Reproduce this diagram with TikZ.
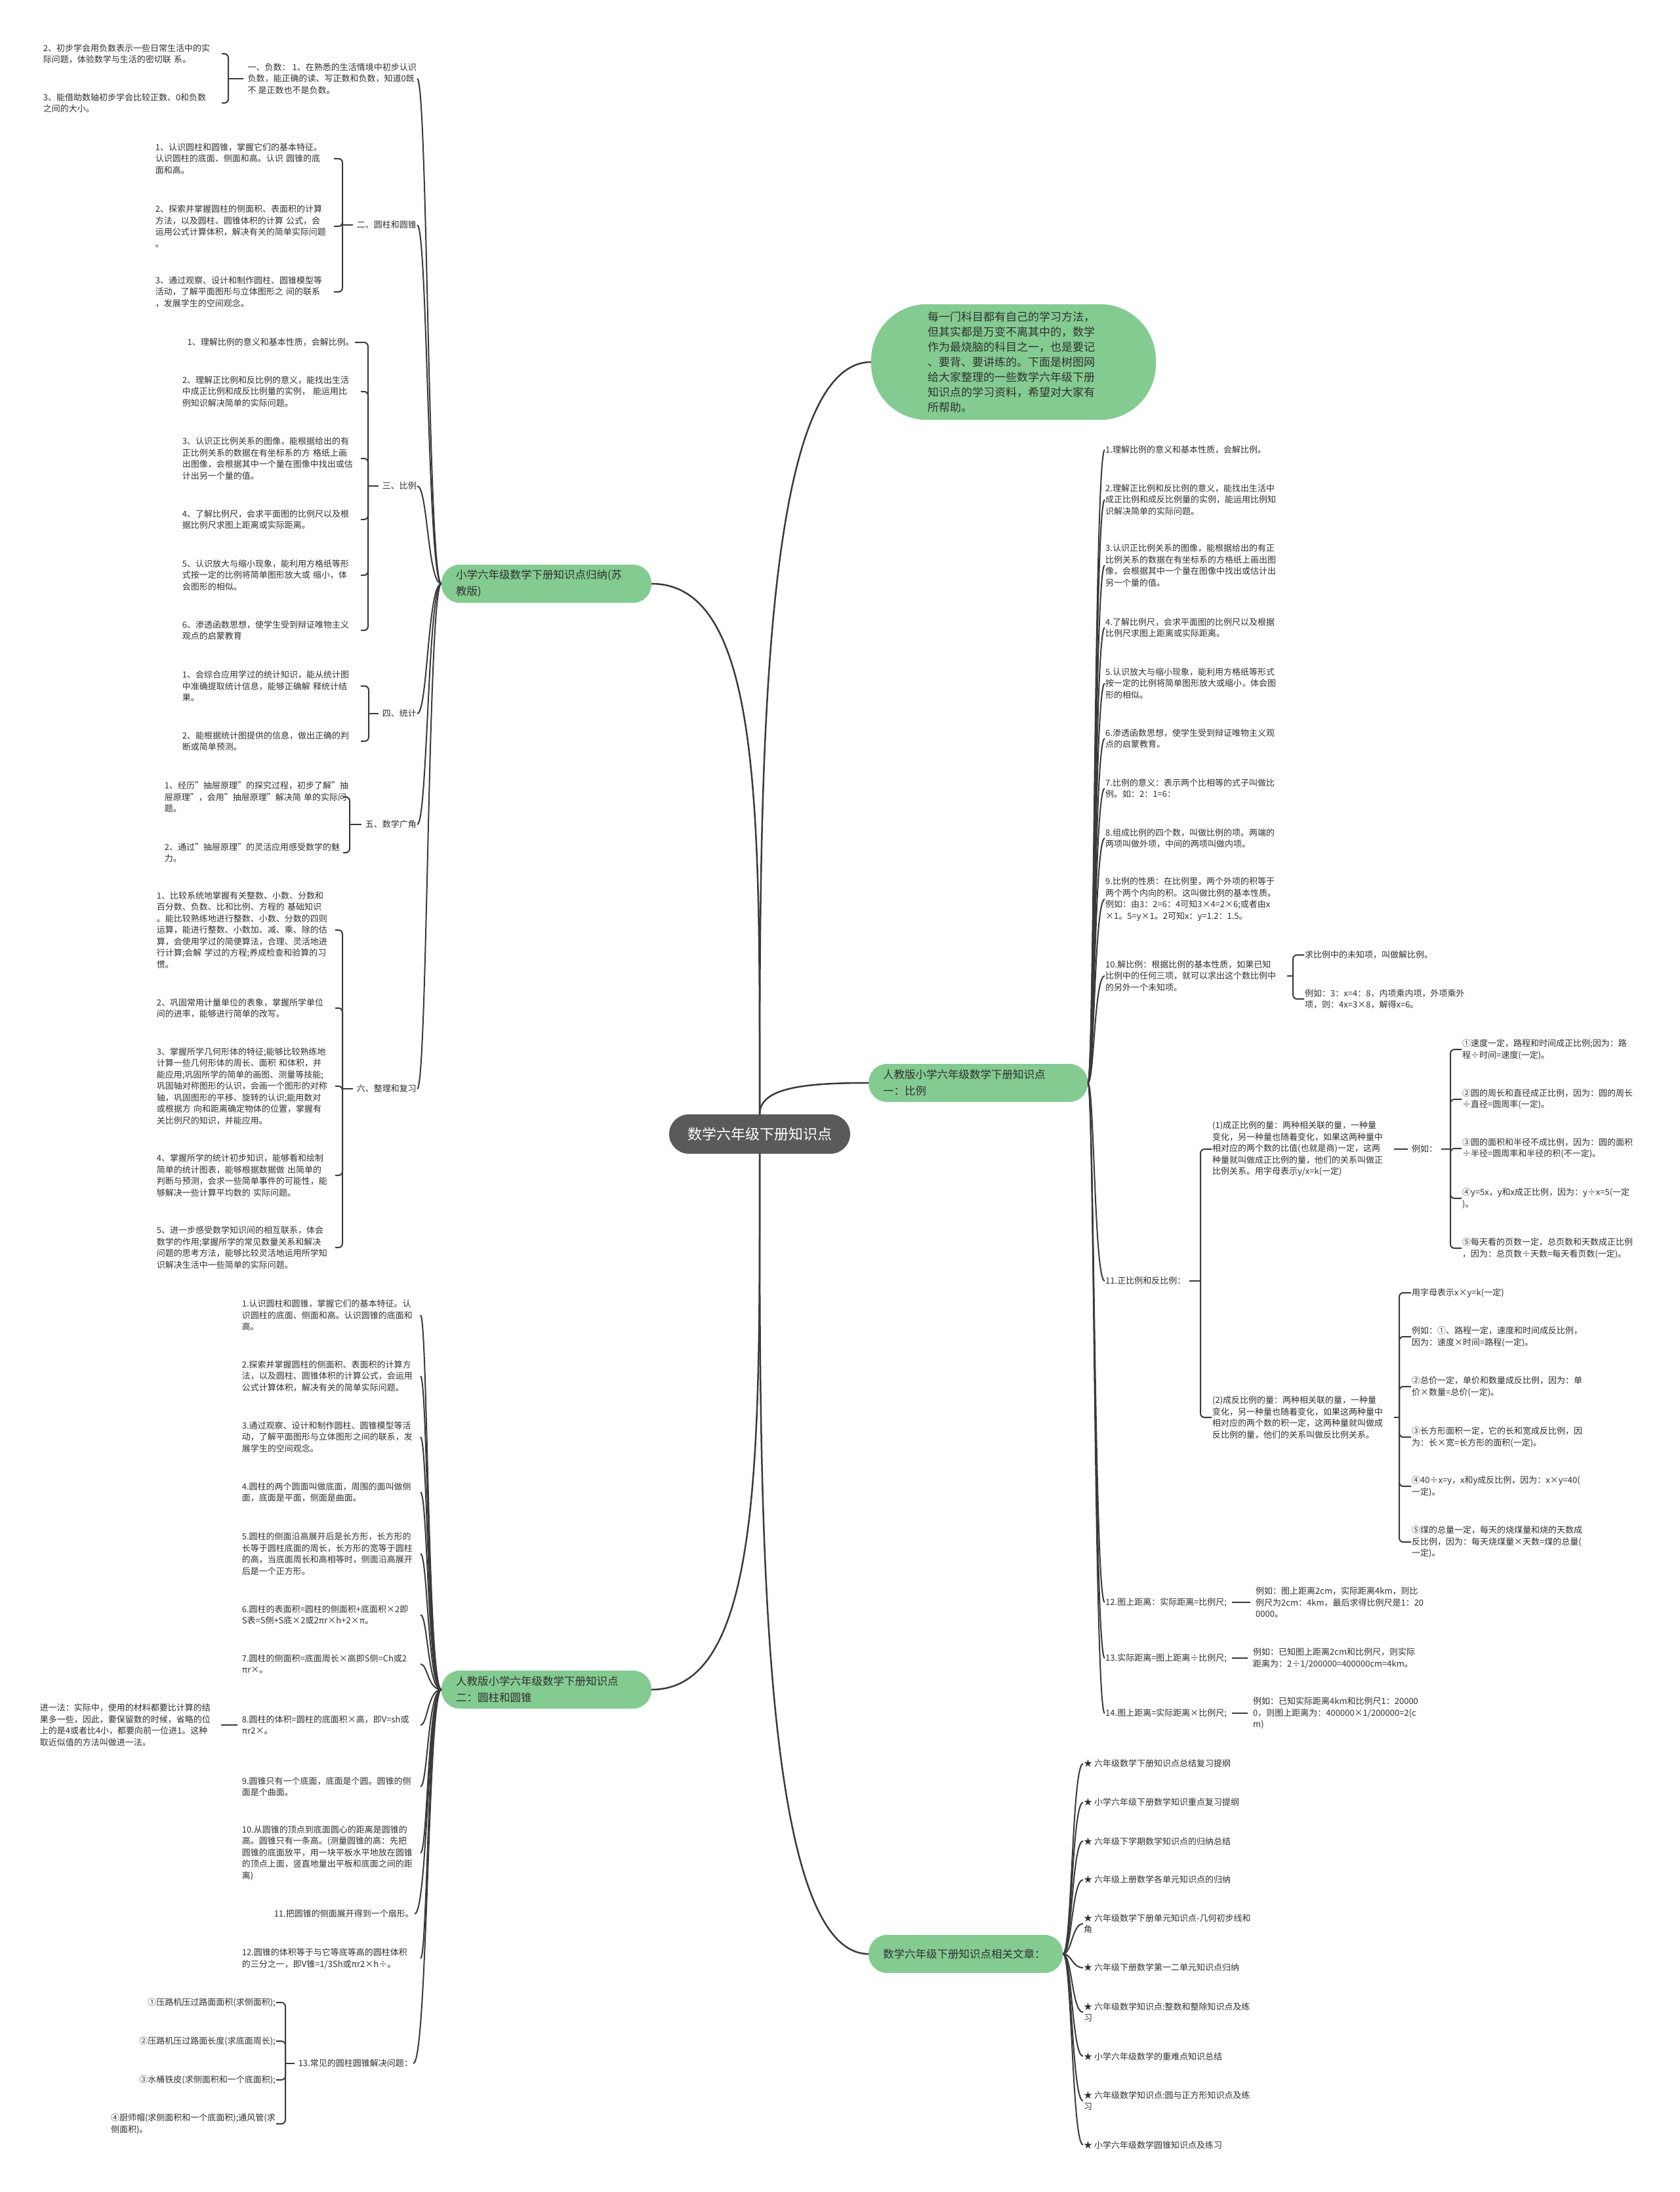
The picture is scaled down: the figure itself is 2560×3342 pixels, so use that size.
\documentclass[tikz,border=0pt]{standalone}
\usepackage{fontspec}
\setmainfont{Noto Sans CJK SC}
\definecolor{mapgreen}{HTML}{84CB91}
\definecolor{mapdark}{HTML}{5A5A5A}
\definecolor{mapline}{HTML}{3A3A3A}
\definecolor{maptext}{HTML}{303030}

\begin{document}
\begin{tikzpicture}[x=1pt, y=-1pt,
    leaf/.style={font=\fontsize{13}{17.5}\selectfont, text=maptext, align=left, inner sep=1pt},
    wide/.style={leaf, text width=271pt},
    topic/.style={fill=mapgreen, text=maptext, align=left, rounded corners=28pt,
      font=\fontsize{16.5}{25}\selectfont, inner xsep=22pt, inner ysep=8pt, minimum height=58pt},
    link/.style={draw=mapline, line width=2pt},
    trunk/.style={draw=mapline, line width=2.5pt},
    brace/.style={draw=mapline, line width=2pt, rounded corners=6pt},
  ]
  \fill[white] (0,0) rectangle (2560,3342);
  \useasboundingbox (0,0) rectangle (2560,3342);

  % centre and main topics
  \node[fill=mapdark, text=white, rounded corners=30pt, minimum height=60pt, inner xsep=28pt,
    font=\fontsize{22}{26}\selectfont] (root) at (1158,1729) {数学六年级下册知识点};
  \node[topic, rounded corners=85pt, text width=262pt, inner xsep=86pt, inner ysep=11pt,
    font=\fontsize{17}{23.1}\selectfont] (intro) at (1545,552)
    {每一门科目都有自己的学习方法，\\但其实都是万变不离其中的，数学\\作为最烧脑的科目之一，也是要记\\、要背、要讲练的。下面是树图网\\给大家整理的一些数学六年级下册\\知识点的学习资料，希望对大家有\\所帮助。};
  \node[topic, text width=276pt] (sujiao) at (833,890) {小学六年级数学下册知识点归纳(苏\\教版)};
  \node[topic, text width=276pt] (yuanzhu) at (833,2576) {人教版小学六年级数学下册知识点\\二：圆柱和圆锥};
  \node[topic, text width=290pt, anchor=west] (bili) at (1324,1651) {人教版小学六年级数学下册知识点\\一：比例};
  \node[topic, text width=252pt, anchor=west] (wenzhang) at (1324,2979) {数学六年级下册知识点相关文章：};

  \draw[trunk] (root.north) .. controls +(0,-450) and +(170,0) .. (sujiao.east);
  \draw[trunk] (root.south) .. controls +(0,450) and +(170,0) .. (yuanzhu.east);
  \draw[trunk] (root.north) .. controls +(0,-500) and +(-170,0) .. (intro.west);
  \draw[trunk] (root.north) .. controls +(0,-40) and +(-100,0) .. (bili.west);
  \draw[trunk] (root.south) .. controls +(0,500) and +(-170,0) .. (wenzhang.west);

  % su jiao ban
  \node[leaf, anchor=east] (neg) at (636,120) {一、负数：~1、在熟悉的生活情境中初步认识\\负数，能正确的读、写正数和负数，知道0既\\不~是正数也不是负数。};
  \node[leaf, anchor=east] (cyl) at (636,343) {二、圆柱和圆锥};
  \node[leaf, anchor=east] (prop) at (636,741) {三、比例};
  \node[leaf, anchor=east] (stat) at (636,1088) {四、统计};
  \node[leaf, anchor=east] (guang) at (636,1257) {五、数学广角};
  \node[leaf, anchor=east] (review) at (636,1660) {六、整理和复习};
  \coordinate (s1) at (652,890);
  \foreach \n in {neg,cyl,prop,stat,guang,review}
    \draw[link] (sujiao.west) .. controls (s1) and (s1 |- \n.east) .. (\n.east);

  \node[wide, anchor=east] (neg1) at (338,82) {2、初步学会用负数表示一些日常生活中的实\\际问题，体验数学与生活的密切联~系。};
  \node[wide, anchor=east] (neg2) at (338,157) {3、能借助数轴初步学会比较正数、0和负数\\之间的大小。};
  \coordinate (b1) at (348,120);

  \node[wide, anchor=east] (cyl1) at (509,242) {1、认识圆柱和圆锥，掌握它们的基本特征。\\认识圆柱的底面、侧面和高。认识~圆锥的底\\面和高。};
  \node[wide, anchor=east] (cyl2) at (509,345) {2、探索并掌握圆柱的侧面积、表面积的计算\\方法，以及圆柱、圆锥体积的计算~公式，会\\运用公式计算体积，解决有关的简单实际问题\\。};
  \node[wide, anchor=east] (cyl3) at (509,445) {3、通过观察、设计和制作圆柱、圆锥模型等\\活动，了解平面图形与立体图形之~间的联系\\，发展学生的空间观念。};
  \coordinate (b2) at (522,343);

  \node[leaf, anchor=east] (prop1) at (541,522) {1、理解比例的意义和基本性质，会解比例。};
  \node[wide, anchor=east] (prop2) at (550,597) {2、理解正比例和反比例的意义，能找出生活\\中成正比例和成反比例量的实例，~能运用比\\例知识解决简单的实际问题。};
  \node[wide, anchor=east] (prop3) at (550,699) {3、认识正比例关系的图像，能根据给出的有\\正比例关系的数据在有坐标系的方~格纸上画\\出图像，会根据其中一个量在图像中找出或估\\计出另一个量的值。};
  \node[wide, anchor=east] (prop4) at (550,792) {4、了解比例尺，会求平面图的比例尺以及根\\据比例尺求图上距离或实际距离。};
  \node[wide, anchor=east] (prop5) at (550,877) {5、认识放大与缩小现象，能利用方格纸等形\\式按一定的比例将简单图形放大或~缩小，体\\会图形的相似。};
  \node[wide, anchor=east] (prop6) at (550,961) {6、渗透函数思想，使学生受到辩证唯物主义\\观点的启蒙教育};
  \coordinate (b3) at (561,741);

  \node[wide, anchor=east] (stat1) at (550,1046) {1、会综合应用学过的统计知识，能从统计图\\中准确提取统计信息，能够正确解~释统计结\\果。};
  \node[wide, anchor=east] (stat2) at (550,1130) {2、能根据统计图提供的信息，做出正确的判\\断或简单预测。};
  \coordinate (b4) at (562,1088);

  \node[wide, anchor=east] (guang1) at (523,1215) {1、经历"抽屉原理"的探究过程，初步了解"抽\\屉原理"，会用"抽屉原理"解决简~单的实际问\\题。};
  \node[wide, anchor=east] (guang2) at (523,1300) {2、通过"抽屉原理"的灵活应用感受数学的魅\\力。};
  \coordinate (b5) at (533,1257);

  \node[wide, anchor=east] (rev1) at (511,1418) {1、比较系统地掌握有关整数、小数、分数和\\百分数、负数、比和比例、方程的~基础知识\\。能比较熟练地进行整数、小数、分数的四则\\运算，能进行整数、小数加、减、乘、除的估\\算，会使用学过的简便算法，合理、灵活地进\\行计算;会解~学过的方程;养成检查和验算的习\\惯。};
  \node[wide, anchor=east] (rev2) at (511,1537) {2、巩固常用计量单位的表象，掌握所学单位\\间的进率，能够进行简单的改写。};
  \node[wide, anchor=east] (rev3) at (511,1656) {3、掌握所学几何形体的特征;能够比较熟练地\\计算一些几何形体的周长、面积~和体积，并\\能应用;巩固所学的简单的画图、测量等技能;\\巩固轴对称图形的认识，会画一个图形的对称\\轴，巩固图形的平移、旋转的认识;能用数对\\或根据方~向和距离确定物体的位置，掌握有\\关比例尺的知识，并能应用。};
  \node[wide, anchor=east] (rev4) at (511,1792) {4、掌握所学的统计初步知识，能够看和绘制\\简单的统计图表，能够根据数据做~出简单的\\判断与预测，会求一些简单事件的可能性，能\\够解决一些计算平均数的~实际问题。};
  \node[wide, anchor=east] (rev5) at (511,1902) {5、进一步感受数学知识间的相互联系，体会\\数学的作用;掌握所学的常见数量关系和解决\\问题的思考方法，能够比较灵活地运用所学知\\识解决生活中一些简单的实际问题。};
  \coordinate (b6) at (522,1660);

  \draw[brace, shorten <=5pt] (neg.west) -- (b1);
  \foreach \k in {neg1,neg2} \draw[brace] (b1) |- (\k.east);
  \draw[brace, shorten <=5pt] (cyl.west) -- (b2);
  \foreach \k in {cyl1,cyl2,cyl3} \draw[brace] (b2) |- (\k.east);
  \draw[brace, shorten <=5pt] (prop.west) -- (b3);
  \foreach \i in {1,...,6} \draw[brace] (b3) |- (prop\i.east);
  \draw[brace, shorten <=5pt] (stat.west) -- (b4);
  \foreach \k in {stat1,stat2} \draw[brace] (b4) |- (\k.east);
  \draw[brace, shorten <=5pt] (guang.west) -- (b5);
  \foreach \k in {guang1,guang2} \draw[brace] (b5) |- (\k.east);
  \draw[brace, shorten <=5pt] (review.west) -- (b6);
  \foreach \i in {1,...,5} \draw[brace] (b6) |- (rev\i.east);

  % ren jiao ban: yuan zhu he yuan zhui
  \node[wide, anchor=east] (yz1) at (641,2005) {1.认识圆柱和圆锥，掌握它们的基本特征。认\\识圆柱的底面、侧面和高。认识圆锥的底面和\\高。};
  \node[wide, anchor=east] (yz2) at (641,2098) {2.探索并掌握圆柱的侧面积、表面积的计算方\\法，以及圆柱、圆锥体积的计算公式，会运用\\公式计算体积，解决有关的简单实际问题。};
  \node[wide, anchor=east] (yz3) at (641,2191) {3.通过观察、设计和制作圆柱、圆锥模型等活\\动，了解平面图形与立体图形之间的联系，发\\展学生的空间观念。};
  \node[wide, anchor=east] (yz4) at (641,2275) {4.圆柱的两个圆面叫做底面，周围的面叫做侧\\面，底面是平面，侧面是曲面。};
  \node[wide, anchor=east] (yz5) at (641,2369) {5.圆柱的侧面沿高展开后是长方形，长方形的\\长等于圆柱底面的周长，长方形的宽等于圆柱\\的高，当底面周长和高相等时，侧面沿高展开\\后是一个正方形。};
  \node[wide, anchor=east] (yz6) at (641,2462) {6.圆柱的表面积=圆柱的侧面积+底面积×2即\\S表=S侧+S底×2或2πr×h+2×π。};
  \node[wide, anchor=east] (yz7) at (641,2537) {7.圆柱的侧面积=底面周长×高即S侧=Ch或2\\πr×。};
  \node[wide, anchor=east] (yz8) at (641,2630) {8.圆柱的体积=圆柱的底面积×高，即V=sh或\\πr2×。};
  \node[wide, anchor=east] (yz9) at (641,2724) {9.圆锥只有一个底面，底面是个圆。圆锥的侧\\面是个曲面。};
  \node[wide, anchor=east] (yz10) at (641,2825) {10.从圆锥的顶点到底面圆心的距离是圆锥的\\高。圆锥只有一条高。(测量圆锥的高：先把\\圆锥的底面放平，用一块平板水平地放在圆锥\\的顶点上面，竖直地量出平板和底面之间的距\\离)};
  \node[leaf, anchor=east] (yz11) at (632,2918) {11.把圆锥的侧面展开得到一个扇形。};
  \node[wide, anchor=east] (yz12) at (641,2986) {12.圆锥的体积等于与它等底等高的圆柱体积\\的三分之一，即V锥=1/3Sh或πr2×h÷。};
  \node[leaf, anchor=east] (yz13) at (630,3146) {13.常见的圆柱圆锥解决问题：};
  \coordinate (s2) at (652,2576);
  \foreach \i in {1,...,13}
    \draw[link] (yuanzhu.west) .. controls (s2) and (s2 |- yz\i.east) .. (yz\i.east);

  \node[wide, anchor=east] (jinyi) at (333,2630) {进一法：实际中，使用的材料都要比计算的结\\果多一些，因此，要保留数的时候，省略的位\\上的是4或者比4小，都要向前一位进1。这种\\取近似值的方法叫做进一法。};
  \draw[link, shorten <=6pt, shorten >=4pt] (yz8.west) -- (jinyi.east);

  \node[leaf, anchor=east] (use1) at (421,3053) {①压路机压过路面面积(求侧面积);};
  \node[leaf, anchor=east] (use2) at (421,3112) {②压路机压过路面长度(求底面周长);};
  \node[leaf, anchor=east] (use3) at (421,3171) {③水桶铁皮(求侧面积和一个底面积);};
  \node[leaf, anchor=east] (use4) at (421,3238) {④厨师帽(求侧面积和一个底面积);通风管(求\\侧面积)。};
  \coordinate (b13) at (435,3146);
  \draw[brace, shorten <=5pt] (yz13.west) -- (b13);
  \foreach \i in {1,...,4} \draw[brace] (b13) |- (use\i.east);

  % ren jiao ban: bi li
  \node[leaf, anchor=west] (bl1) at (1684,686) {1.理解比例的意义和基本性质，会解比例。};
  \node[wide, anchor=west] (bl2) at (1684,762) {2.理解正比例和反比例的意义，能找出生活中\\成正比例和成反比例量的实例，能运用比例知\\识解决简单的实际问题。};
  \node[wide, anchor=west] (bl3) at (1684,862) {3.认识正比例关系的图像，能根据给出的有正\\比例关系的数据在有坐标系的方格纸上画出图\\像，会根据其中一个量在图像中找出或估计出\\另一个量的值。};
  \node[wide, anchor=west] (bl4) at (1684,957) {4.了解比例尺，会求平面图的比例尺以及根据\\比例尺求图上距离或实际距离。};
  \node[wide, anchor=west] (bl5) at (1684,1042) {5.认识放大与缩小现象，能利用方格纸等形式\\按一定的比例将简单图形放大或缩小，体会图\\形的相似。};
  \node[wide, anchor=west] (bl6) at (1684,1126) {6.渗透函数思想，使学生受到辩证唯物主义观\\点的启蒙教育。};
  \node[wide, anchor=west] (bl7) at (1684,1202) {7.比例的意义：表示两个比相等的式子叫做比\\例。如：2：1=6：};
  \node[wide, anchor=west] (bl8) at (1684,1278) {8.组成比例的四个数，叫做比例的项。两端的\\两项叫做外项，中间的两项叫做内项。};
  \node[wide, anchor=west] (bl9) at (1684,1371) {9.比例的性质：在比例里，两个外项的积等于\\两个两个内向的积。这叫做比例的基本性质。\\例如：由3：2=6：4可知3×4=2×6;或者由x\\×1。5=y×1。2可知x：y=1.2：1.5。};
  \node[wide, anchor=west] (bl10) at (1684,1488) {10.解比例：根据比例的基本性质，如果已知\\比例中的任何三项，就可以求出这个数比例中\\的另外一个未知项。};
  \node[leaf, anchor=west] (bl11) at (1684,1953) {11.正比例和反比例：};
  \node[leaf, anchor=west] (bl12) at (1684,2443) {12.图上距离：实际距离=比例尺;};
  \node[leaf, anchor=west] (bl13) at (1684,2528) {13.实际距离=图上距离÷比例尺;};
  \node[leaf, anchor=west] (bl14) at (1684,2612) {14.图上距离=实际距离×比例尺;};
  \coordinate (s3) at (1668,1651);
  \foreach \i in {1,...,14}
    \draw[link] (bili.east) .. controls (s3) and (s3 |- bl\i.west) .. (bl\i.west);

  \node[leaf, anchor=west] (jie1) at (1988,1456) {求比例中的未知项，叫做解比例。};
  \node[wide, anchor=west] (jie2) at (1988,1523) {例如：3：x=4：8，内项乘内项，外项乘外\\项，则：4x=3×8，解得x=6。};
  \coordinate (b10) at (1971,1488);
  \draw[brace, shorten <=5pt] (bl10.east) -- (b10);
  \foreach \k in {jie1,jie2} \draw[brace] (b10) |- (\k.west);

  \node[wide, anchor=west] (zheng) at (1847,1752) {(1)成正比例的量：两种相关联的量，一种量\\变化，另一种量也随着变化，如果这两种量中\\相对应的两个数的比值(也就是商)一定，这两\\种量就叫做成正比例的量，他们的关系叫做正\\比例关系。用字母表示y/x=k(一定)};
  \node[wide, anchor=west] (fan) at (1847,2161) {(2)成反比例的量：两种相关联的量，一种量\\变化，另一种量也随着变化，如果这两种量中\\相对应的两个数的积一定，这两种量就叫做成\\反比例的量，他们的关系叫做反比例关系。};
  \coordinate (b11) at (1830,1953);
  \draw[brace, shorten <=5pt] (bl11.east) -- (b11);
  \foreach \k in {zheng,fan} \draw[brace] (b11) |- (\k.west);

  \node[leaf, anchor=west] (liru) at (2151,1752) {例如：};
  \draw[link, shorten <=5pt, shorten >=5pt] (zheng.east) -- (liru.west);
  \node[wide, anchor=west] (zl1) at (2228,1600) {①速度一定，路程和时间成正比例;因为：路\\程÷时间=速度(一定)。};
  \node[wide, anchor=west] (zl2) at (2228,1676) {②圆的周长和直径成正比例，因为：圆的周长\\÷直径=圆周率(一定)。};
  \node[wide, anchor=west] (zl3) at (2228,1751) {③圆的面积和半径不成比例，因为：圆的面积\\÷半径=圆周率和半径的积(不一定)。};
  \node[wide, anchor=west] (zl4) at (2228,1827) {④y=5x，y和x成正比例，因为：y÷x=5(一定\\)。};
  \node[wide, anchor=west] (zl5) at (2228,1903) {⑤每天看的页数一定，总页数和天数成正比例\\，因为：总页数÷天数=每天看页数(一定)。};
  \coordinate (bz) at (2211,1752);
  \draw[brace, shorten <=5pt] (liru.east) -- (bz);
  \foreach \i in {1,...,5} \draw[brace] (bz) |- (zl\i.west);

  \node[leaf, anchor=west] (fl1) at (2151,1971) {用字母表示x×y=k(一定)};
  \node[wide, anchor=west] (fl2) at (2151,2038) {例如：①、路程一定，速度和时间成反比例，\\因为：速度×时间=路程(一定)。};
  \node[wide, anchor=west] (fl3) at (2151,2114) {②总价一定，单价和数量成反比例，因为：单\\价×数量=总价(一定)。};
  \node[wide, anchor=west] (fl4) at (2151,2191) {③长方形面积一定，它的长和宽成反比例，因\\为：长×宽=长方形的面积(一定)。};
  \node[wide, anchor=west] (fl5) at (2151,2266) {④40÷x=y，x和y成反比例，因为：x×y=40(\\一定)。};
  \node[wide, anchor=west] (fl6) at (2151,2351) {⑤煤的总量一定，每天的烧煤量和烧的天数成\\反比例，因为：每天烧煤量×天数=煤的总量(\\一定)。};
  \coordinate (bf) at (2133,2161);
  \draw[brace, shorten <=5pt] (fan.east) -- (bf);
  \foreach \i in {1,...,6} \draw[brace] (bf) |- (fl\i.west);

  \node[wide, anchor=west] (bl12x) at (1913,2443) {例如：图上距离2cm，实际距离4km，则比\\例尺为2cm：4km，最后求得比例尺是1：20\\0000。};
  \node[wide, anchor=west] (bl13x) at (1909,2528) {例如：已知图上距离2cm和比例尺，则实际\\距离为：2÷1/200000=400000cm=4km。};
  \node[wide, anchor=west] (bl14x) at (1909,2612) {例如：已知实际距离4km和比例尺1：20000\\0，则图上距离为：400000×1/200000=2(c\\m)};
  \foreach \i in {12,13,14}
    \draw[link, shorten <=7pt, shorten >=7pt] (bl\i.east) -- (bl\i x.west);

  % xiang guan wen zhang
  \node[leaf, anchor=west] (star1) at (1651,2689) {★ 六年级数学下册知识点总结复习提纲};
  \node[leaf, anchor=west] (star2) at (1651,2748) {★ 小学六年级下册数学知识重点复习提纲};
  \node[leaf, anchor=west] (star3) at (1651,2807) {★ 六年级下学期数学知识点的归纳总结};
  \node[leaf, anchor=west] (star4) at (1651,2866) {★ 六年级上册数学各单元知识点的归纳};
  \node[leaf, anchor=west] (star5) at (1651,2933) {★ 六年级数学下册单元知识点-几何初步线和\\角};
  \node[leaf, anchor=west] (star6) at (1651,3000) {★ 六年级下册数学第一二单元知识点归纳};
  \node[leaf, anchor=west] (star7) at (1651,3068) {★ 六年级数学知识点:整数和整除知识点及练\\习};
  \node[leaf, anchor=west] (star8) at (1651,3135) {★ 小学六年级数学的重难点知识总结};
  \node[leaf, anchor=west] (star9) at (1651,3203) {★ 六年级数学知识点:圆与正方形知识点及练\\习};
  \node[leaf, anchor=west] (star10) at (1651,3270) {★ 小学六年级数学圆锥知识点及练习};
  \coordinate (s4) at (1634,2979);
  \foreach \i in {1,...,10}
    \draw[link] (wenzhang.east) .. controls (s4) and (s4 |- star\i.west) .. (star\i.west);
\end{tikzpicture}
\end{document}
